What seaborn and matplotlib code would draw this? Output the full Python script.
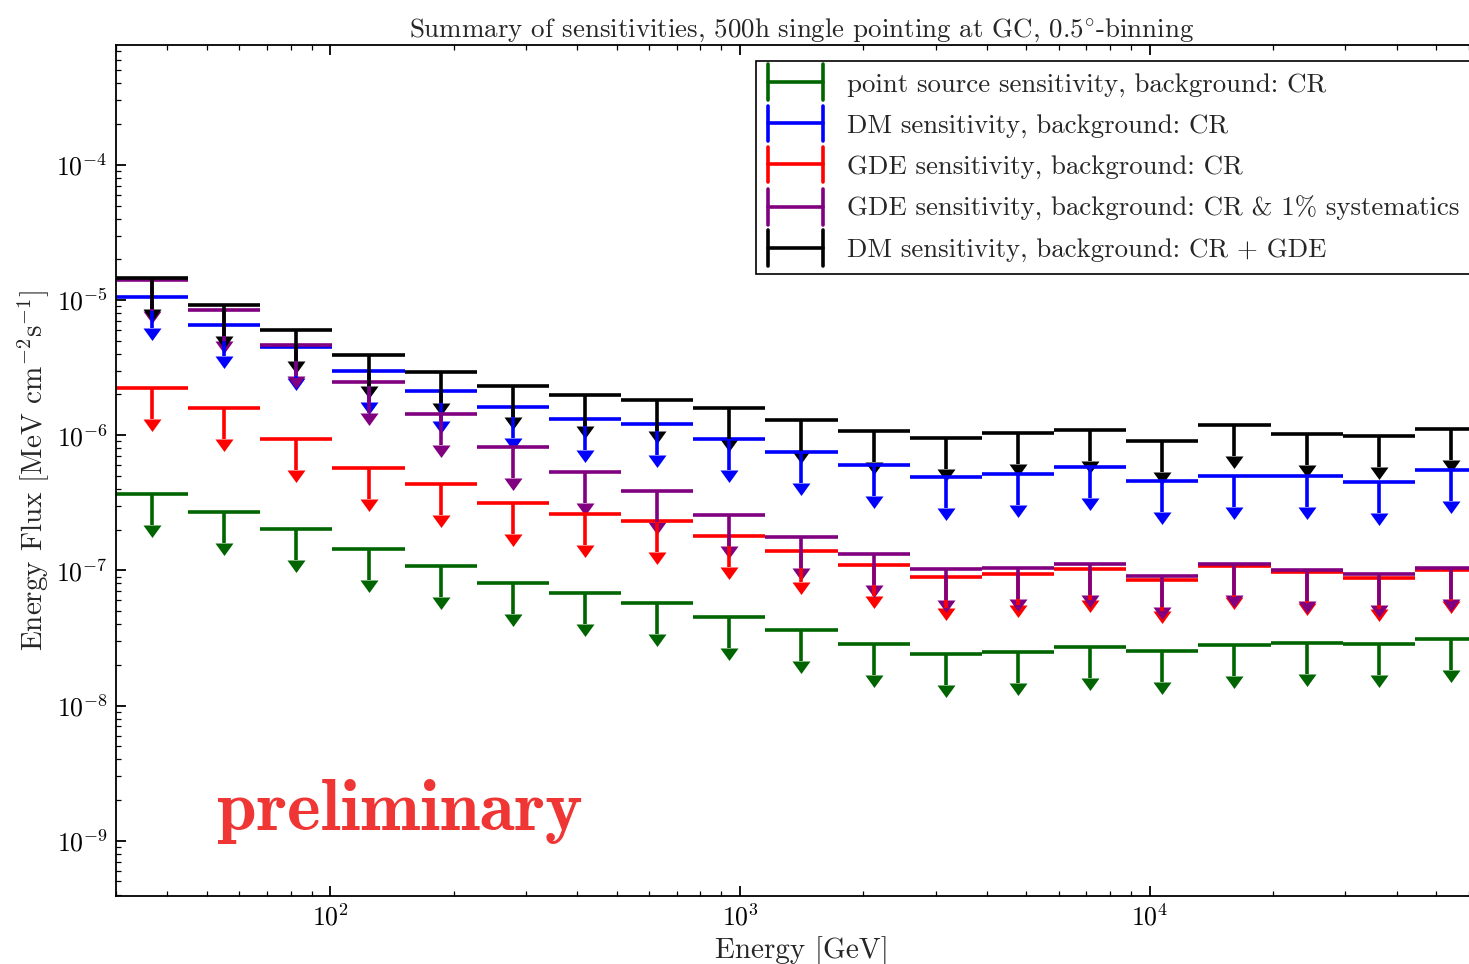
import numpy as np
import matplotlib
matplotlib.use("Agg")
import matplotlib.pyplot as plt
import seaborn as sns
from matplotlib.path import Path
from matplotlib.lines import Line2D
from matplotlib.legend_handler import HandlerBase

# ---------------- data ----------------
bin_edges = [30.0, 45.0, 67.5, 101.25, 151.875, 227.81, 341.72, 512.58, 768.87,
             1153.30, 1729.95, 2594.93, 3892.40, 5838.60, 8757.90, 13136.85,
             19705.28, 29557.92, 44336.88, 66505.32]

point_src_cr = [3.67e-7, 2.70e-7, 2.01e-7, 1.45e-7, 1.07e-7, 8.10e-8, 6.75e-8, 5.73e-8,
                4.51e-8, 3.64e-8, 2.85e-8, 2.42e-8, 2.47e-8, 2.69e-8, 2.53e-8, 2.80e-8,
                2.91e-8, 2.85e-8, 3.10e-8]
dm_cr = [1.056e-5, 6.52e-6, 4.50e-6, 2.98e-6, 2.14e-6, 1.62e-6, 1.32e-6, 1.20e-6,
         9.40e-7, 7.57e-7, 6.04e-7, 4.92e-7, 5.12e-7, 5.81e-7, 4.57e-7, 5.03e-7,
         4.95e-7, 4.50e-7, 5.48e-7]
gde_cr = [2.24e-6, 1.59e-6, 9.40e-7, 5.67e-7, 4.37e-7, 3.16e-7, 2.61e-7, 2.30e-7,
          1.81e-7, 1.39e-7, 1.10e-7, 8.97e-8, 9.33e-8, 1.03e-7, 8.48e-8, 1.08e-7,
          9.71e-8, 8.82e-8, 1.01e-7]
gde_cr_sys = [1.41e-5, 8.42e-6, 4.64e-6, 2.47e-6, 1.44e-6, 8.17e-7, 5.36e-7, 3.88e-7,
              2.55e-7, 1.77e-7, 1.32e-7, 1.03e-7, 1.04e-7, 1.12e-7, 9.02e-8, 1.12e-7,
              9.98e-8, 9.39e-8, 1.04e-7]
dm_cr_gde = [1.45e-5, 9.17e-6, 5.99e-6, 3.91e-6, 2.91e-6, 2.33e-6, 1.99e-6, 1.83e-6,
             1.59e-6, 1.29e-6, 1.08e-6, 9.52e-7, 1.03e-6, 1.10e-6, 9.05e-7, 1.18e-6,
             1.02e-6, 9.85e-7, 1.12e-6]

labels = ["point source sensitivity, background: CR",
          "DM sensitivity, background: CR",
          "GDE sensitivity, background: CR",
          "GDE sensitivity, background: CR & 1% systematics",
          "DM sensitivity, background: CR + GDE"]
series = [point_src_cr, dm_cr, gde_cr, gde_cr_sys, dm_cr_gde]
colors = ["#006400", "#0000ff", "#ff0000", "#800080", "#000000"]

x_ticks = [1e2, 1e3, 1e4]
y_ticks = [1e-9, 1e-8, 1e-7, 1e-6, 1e-5, 1e-4]

# ---------------- style ----------------
sns.set_theme(style="ticks")
plt.rcParams.update({
    "font.family": ["cmr10", "DejaVu Serif"],
    "mathtext.fontset": "cm",
    "axes.formatter.use_mathtext": True,
    "axes.edgecolor": "black",
    "axes.linewidth": 1.3,
    "xtick.direction": "in", "ytick.direction": "in",
    "xtick.top": True, "ytick.right": True,
    "xtick.major.size": 7, "ytick.major.size": 7,
    "xtick.minor.size": 3.5, "ytick.minor.size": 3.5,
    "xtick.major.width": 1.3, "ytick.major.width": 1.3,
    "xtick.minor.width": 0.9, "ytick.minor.width": 0.9,
    "xtick.color": "black", "ytick.color": "black",
    "xtick.major.pad": 6, "ytick.major.pad": 6,
})

fig = plt.figure(figsize=(14.69, 9.64), dpi=100)
ax = fig.add_axes([116 / 1469, 68 / 964, 1371 / 1469, 851 / 964])
ax.set_xscale("log")
ax.set_yscale("log")

edges = np.array(bin_edges)
lo, hi = edges[:-1], edges[1:]
centers = np.sqrt(lo * hi)

ARROW_FRAC = 0.59
arrow_path = Path([(-0.72, 0.0), (0.72, 0.0), (0.0, -1.0), (-0.72, 0.0)],
                  [Path.MOVETO, Path.LINETO, Path.LINETO, Path.CLOSEPOLY])

for vals, col in zip(series, colors):
    v = np.array(vals)
    ax.errorbar(centers, v, xerr=[centers - lo, hi - centers],
                yerr=[v * (1 - ARROW_FRAC), np.zeros_like(v)],
                fmt="none", ecolor=col, elinewidth=2.6, capsize=0)
    sns.scatterplot(x=centers, y=v * ARROW_FRAC, marker=arrow_path, s=18 ** 2,
                    color=col, linewidth=0, ax=ax, legend=False)

ax.set_xlim(bin_edges[0], bin_edges[-1])
ax.set_ylim(3.9e-10, 7.7e-4)
ax.set_xticks(x_ticks)
ax.set_yticks(y_ticks)

ax.set_title(r"Summary of sensitivities, 500h single pointing at GC, 0.5$^{\circ}$-binning",
             fontsize=19.4, pad=6)
ax.set_xlabel("Energy [GeV]", fontsize=21, labelpad=4)
ax.set_ylabel(r"Energy Flux [MeV cm$^{-2}$s$^{-1}$]", fontsize=21, labelpad=4)
ax.tick_params(axis="both", which="major", labelsize=18.5)

ax.text(0.0737, 0.0776, "preliminary", transform=ax.transAxes, fontsize=51.5,
        family=["cmb10", "DejaVu Serif"], fontweight="bold", color="#f03535",
        ha="left", va="baseline")


class HandlerH(HandlerBase):
    def create_artists(self, legend, orig_handle, xdescent, ydescent,
                       width, height, fontsize, trans):
        c = orig_handle.get_color()
        lw = orig_handle.get_linewidth()
        x0 = -xdescent
        x1 = x0 + width
        yc = -ydescent + height / 2
        hh = height * 0.95
        arts = [Line2D([x0, x1], [yc, yc]),
                Line2D([x0, x0], [yc - hh, yc + hh]),
                Line2D([x1, x1], [yc - hh, yc + hh])]
        for a in arts:
            a.set_color(c)
            a.set_linewidth(lw)
            a.set_transform(trans)
        return arts


handles = [Line2D([], [], color=c, lw=2.6) for c in colors]
leg = ax.legend(handles, labels, handler_map={Line2D: HandlerH()}, loc="upper right",
                fontsize=19.3, frameon=True, fancybox=False, edgecolor="black",
                framealpha=1, handlelength=2.05, handletextpad=0.9, labelspacing=0.64,
                borderpad=0.44, borderaxespad=0.6)
leg.get_frame().set_linewidth(1.2)

fig.savefig("out.png", dpi=100)
